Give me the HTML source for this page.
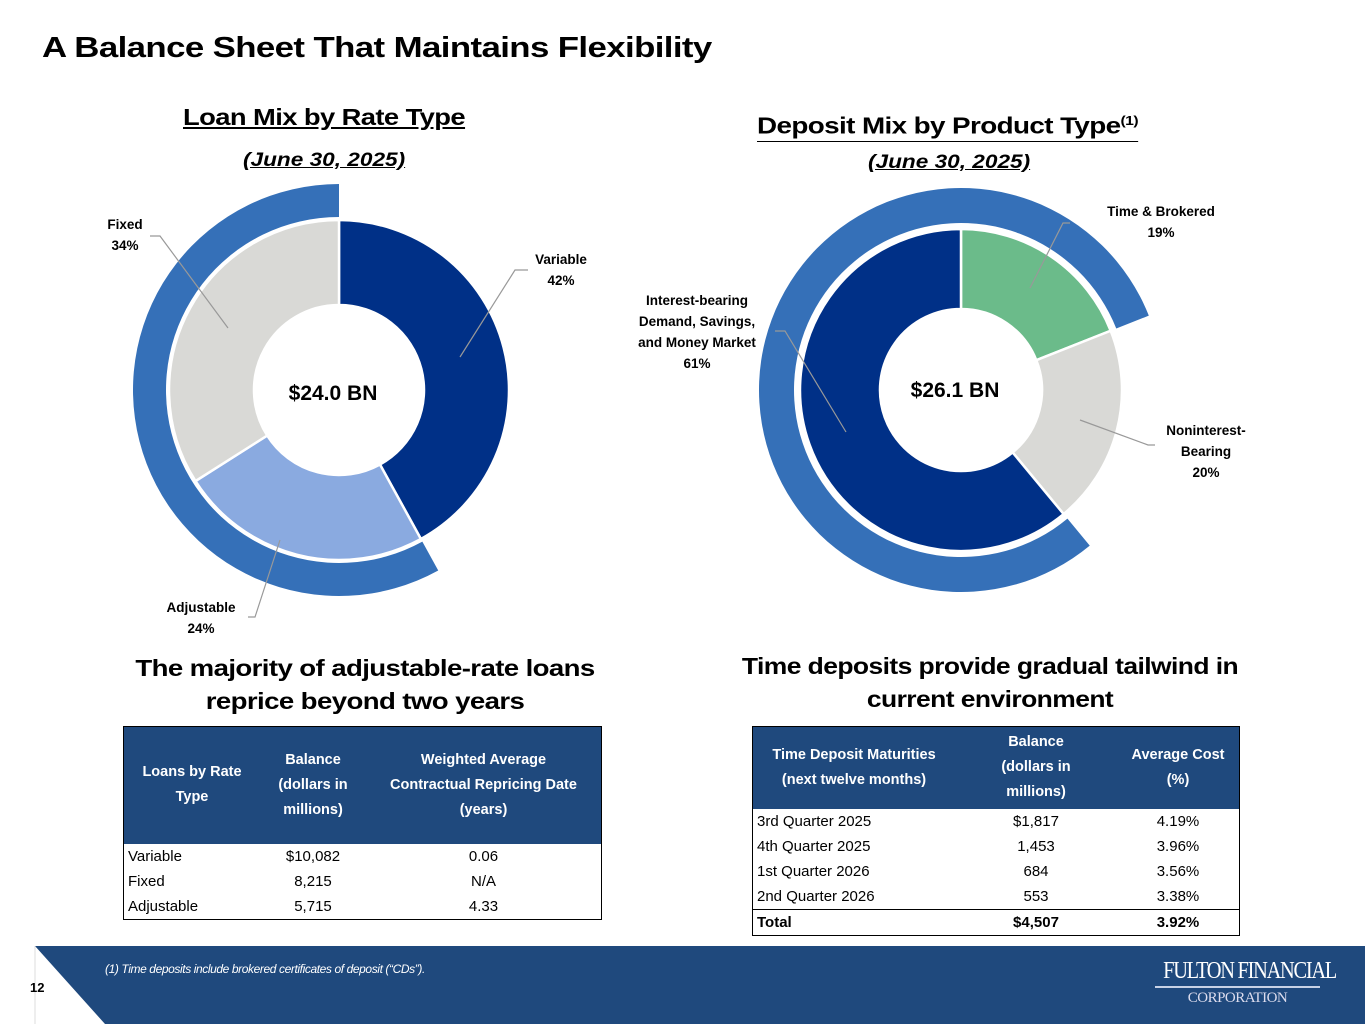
<!DOCTYPE html>
<html><head><meta charset="utf-8">
<style>
body{margin:0;width:1365px;height:1024px;position:relative;background:#fff;font-family:"Liberation Sans",sans-serif;overflow:hidden;color:#000}
.abs{position:absolute}
.t{position:absolute;white-space:nowrap}
.sx{transform-origin:0 0;transform:scaleX(1.19)}
table{border-collapse:collapse;position:absolute;font-size:15px}
th{background:#1f497d;color:#fff;font-weight:bold;font-size:14.5px;line-height:25px;text-align:center}
td{height:25px;padding:0 4px;text-align:center}
</style></head><body>
<div class="t sx" style="left:42px;top:32px;font-size:29px;font-weight:bold;letter-spacing:-0.5px;transform:scaleX(1.2)">A Balance Sheet That Maintains Flexibility</div>

<div class="t sx" style="left:183px;top:104px;font-size:23px;font-weight:bold;text-decoration:underline;letter-spacing:-0.5px">Loan Mix by Rate Type</div>
<div class="t sx" style="left:243px;top:150px;font-size:19px;font-weight:bold;font-style:italic;text-decoration:underline">(June 30, 2025)</div>
<div class="t sx" style="left:757px;top:106px;font-size:23px;font-weight:bold;letter-spacing:-0.5px;border-bottom:1.5px solid #000;line-height:30px;transform:scaleX(1.21)">Deposit Mix by Product Type<sup style="font-size:13px">(1)</sup></div>
<div class="t sx" style="left:868px;top:152px;font-size:19px;font-weight:bold;font-style:italic;text-decoration:underline">(June 30, 2025)</div>

<svg class="abs" style="left:0;top:0" width="1365" height="660" id="charts"></svg>

<div class="t" style="left:100px;top:652px;width:530px;text-align:center;font-size:23px;font-weight:bold;line-height:33px;letter-spacing:-0.5px"><div style="transform:scaleX(1.2)">The majority of adjustable-rate loans<br>reprice beyond two years</div></div>
<div class="t" style="left:720px;top:650px;width:540px;text-align:center;font-size:23px;font-weight:bold;line-height:33px;letter-spacing:-0.5px"><div style="transform:scaleX(1.15)">Time deposits provide gradual tailwind in<br>current environment</div></div>

<table style="left:123px;top:726px;width:479px;border:1.5px solid #000">
<tr style="height:117px"><th style="width:134px">Loans by Rate<br>Type</th><th style="width:104px">Balance<br>(dollars in<br>millions)</th><th>Weighted Average<br>Contractual Repricing Date<br>(years)</th></tr>
<tr><td style="text-align:left">Variable</td><td>$10,082</td><td>0.06</td></tr>
<tr><td style="text-align:left">Fixed</td><td>8,215</td><td>N/A</td></tr>
<tr><td style="text-align:left">Adjustable</td><td>5,715</td><td>4.33</td></tr>
</table>

<table style="left:752px;top:726px;width:488px;border:1.5px solid #000">
<tr style="height:82px"><th style="width:200px">Time Deposit Maturities<br>(next twelve months)</th><th style="width:160px">Balance<br>(dollars in<br>millions)</th><th>Average Cost<br>(%)</th></tr>
<tr><td style="text-align:left">3rd Quarter 2025</td><td>$1,817</td><td>4.19%</td></tr>
<tr><td style="text-align:left">4th Quarter 2025</td><td>1,453</td><td>3.96%</td></tr>
<tr><td style="text-align:left">1st Quarter 2026</td><td>684</td><td>3.56%</td></tr>
<tr><td style="text-align:left">2nd Quarter 2026</td><td>553</td><td>3.38%</td></tr>
<tr style="font-weight:bold;border-top:1px solid #000"><td style="text-align:left">Total</td><td>$4,507</td><td>3.92%</td></tr>
</table>

<svg class="abs" style="left:0;top:946px" width="1365" height="78">
<polygon points="35,0 1365,0 1365,78 105,78" fill="#1f497d"/>
<line x1="35" y1="0" x2="35" y2="78" stroke="#ddd"/>
</svg>
<div class="t" style="left:105px;top:962px;font-size:12px;font-style:italic;color:#fff;letter-spacing:-0.4px">(1) Time deposits include brokered certificates of deposit (“CDs”).</div>
<div class="t" style="left:30px;top:980px;font-size:13px;font-weight:bold">12</div>
<div class="t" style="left:1150px;top:958px;width:175px;text-align:center;color:#fff;font-family:'Liberation Serif',serif">
<div style="font-size:24px;letter-spacing:-1.5px;transform:scaleX(0.85)">FULTON FINANCIAL</div>
<div style="border-top:2px solid #c8d2e6;margin:1px 5px 2px"></div>
<div style="font-size:15px;letter-spacing:-0.5px;color:#dde">CORPORATION</div></div>

<script>
const loanCats=["Variable","Adjustable","Fixed"];
const loanVals=[42,24,34];
const loanColors=["#003087","#8aaae0","#d9d9d6"];
const depCats=["Time & Brokered","Noninterest-Bearing","Interest-bearing Demand, Savings, and Money Market"];
const depVals=[19,20,61];
const depColors=["#6bbb8a","#d9d9d6","#003087"];
const loanTotal="$24.0 BN";
const depTotal="$26.1 BN";
const NS="http://www.w3.org/2000/svg";
const svg=document.getElementById('charts');
function pt(cx,cy,r,a){const t=(a-90)*Math.PI/180;return [cx+r*Math.cos(t),cy+r*Math.sin(t)];}
function arc(cx,cy,r0,r1,a0,a1){const l=(a1-a0)>180?1:0;const p1=pt(cx,cy,r1,a0),p2=pt(cx,cy,r1,a1),p3=pt(cx,cy,r0,a1),p4=pt(cx,cy,r0,a0);
return `M${p1}A${r1},${r1} 0 ${l} 1 ${p2}L${p3}A${r0},${r0} 0 ${l} 0 ${p4}Z`;}
function el(tag,attrs){const e=document.createElementNS(NS,tag);for(const k in attrs)e.setAttribute(k,attrs[k]);svg.appendChild(e);return e;}
function donut(cx,cy,r0,r1,vals,colors,prefix,outerFrom,outerTo,or0,or1){
  const tot=vals.reduce((a,b)=>a+b,0);let a=0;const angs=[];
  vals.forEach((v,i)=>{const a1=a+v/tot*360;angs.push([a,a1]);
    const p=el('path',{d:arc(cx,cy,r0,r1,a,a1),fill:colors[i],stroke:'#fff','stroke-width':2.5});
    
    
    a=a1;});
  let s=angs[outerFrom][0],e=angs[outerTo][1];if(e<=s)e+=360;
  const o=el('path',{d:arc(cx,cy,or0,or1,s,e),fill:'#3570b8'});
  
  
  return angs;}
donut(339,390,85,170,loanVals,loanColors,'loan',1,2,173,206);
const dAngs=donut(961,390,81,161,depVals,depColors,'deposit',2,0,167,202);
function txt(x,y,s,size,anchor,name){const t=el('text',{x:x,y:y,'font-size':size,'font-weight':'bold','text-anchor':anchor||'middle','font-family':'Liberation Sans, sans-serif'});t.textContent=s;
 
 return t;}
txt(333,400,loanTotal,21,'middle','loan-total');
txt(955,397,depTotal,21,'middle','deposit-total');
function lead(pts,name){const l=el('polyline',{points:pts,fill:'none',stroke:'#999','stroke-width':1.2});
 
 }
lead("460,357 515,270 528,270",'variable-leader');
lead("228,328 160,236 150,236",'fixed-leader');
lead("280,540 255,617 248,617",'adjustable-leader');
lead("1030,288 1063,223 1070,223",'time-leader');
lead("1080,420 1148,445 1155,445",'noninterest-leader');
lead("846,432 785,331 775,331",'interest-leader');
function lbl(x,y,lines,anchor,name){lines.forEach((s,i)=>txt(x,y+i*21,s,13.5,anchor,name+'-'+i));}
lbl(561,264,["Variable",loanVals[0]+"%"],'middle','variable-label');
lbl(125,229,["Fixed",loanVals[2]+"%"],'middle','fixed-label');
lbl(201,612,["Adjustable",loanVals[1]+"%"],'middle','adjustable-label');
lbl(1161,216,["Time & Brokered",depVals[0]+"%"],'middle','time-label');
lbl(1206,435,["Noninterest-","Bearing",depVals[1]+"%"],'middle','noninterest-label');
lbl(697,305,["Interest-bearing","Demand, Savings,","and Money Market",depVals[2]+"%"],'middle','interest-label');
</script>
</body></html>
